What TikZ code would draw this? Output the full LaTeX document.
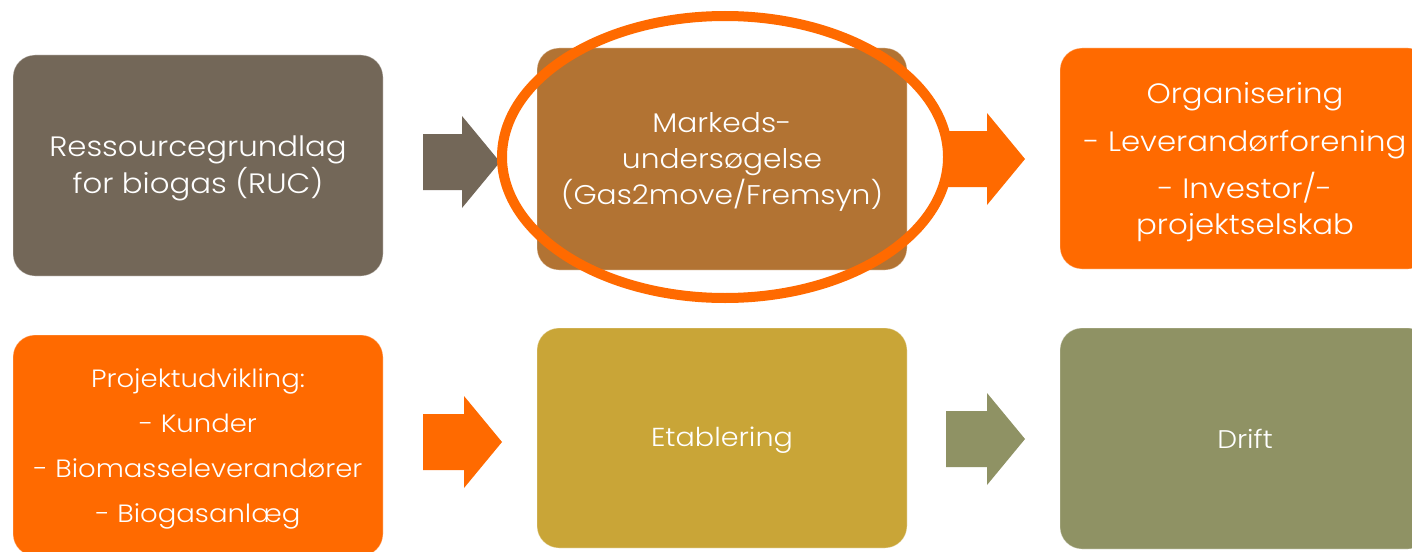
\documentclass[tikz,border=0pt]{standalone}
\usepackage{fontspec}
\setmainfont{Poppins}[UprightFont={* Light}, FakeStretch=1.1]
\usetikzlibrary{calc}
\definecolor{cgrey}{HTML}{736758}
\definecolor{cbrown}{HTML}{B27333}
\definecolor{corange}{HTML}{FF6A00}
\definecolor{cgold}{HTML}{C9A537}
\definecolor{colive}{HTML}{8F9264}
\newcommand\myblockarrow[3]{%
  \fill[#1] ($(#2)+(0,-28)$) -- ($(#3)+(-38,-28)$) -- ($(#3)+(-38,-46)$) -- (#3)
    -- ($(#3)+(-38,46)$) -- ($(#3)+(-38,28)$) -- ($(#2)+(0,28)$) -- cycle;}
\begin{document}
\begin{tikzpicture}[x=1pt,y=-1pt,
  box/.style={rounded corners=22pt, minimum width=370pt, minimum height=221pt,
    inner sep=0pt, draw=white, draw opacity=0.35, line width=0.8pt},
  txt/.style={inner sep=0pt, text=white, align=center},
  ring/.style={draw=corange, line width=10pt}]
\useasboundingbox (0,0) rectangle (1412,551);
\clip (0,0) rectangle (1412,551);
\fill[white] (0,0) rectangle (1412,551);

\node[box, fill=cgrey] (b1) at (198,165.5) {};
\node[box, fill=cbrown, minimum height=222pt] (b2) at (722,159) {};
\node[box, fill=corange] (b3) at (1245,158.5) {};
\node[box, fill=corange] (b4) at (198,445.5) {};
\node[box, fill=cgold, minimum height=220pt] (b5) at (722,438) {};
\node[box, fill=colive] (b6) at (1245,438.5) {};

\node[txt, font=\fontsize{28}{37}\selectfont] (t1) at ($(b1)+(0,3)$)
  {Ressourcegrundlag\\for biogas (RUC)};
\node[txt, font=\fontsize{27}{36}\selectfont] (t2) at ($(b2)+(0,3)$)
  {Markeds-\\undersøgelse\\(Gas2move/Fremsyn)};
\node[txt, font=\fontsize{28}{36}\selectfont] (t3) at ($(b3)+(0,3.5)$)
  {Organisering\\[12pt]- Leverandørforening\\[11pt]- Investor/-\\projektselskab};
\node[txt, font=\fontsize{25}{45}\selectfont] (t4) at ($(b4)+(0,3)$)
  {Projektudvikling:\\- Kunder\\- Biomasseleverandører\\- Biogasanlæg};
\node[txt, font=\fontsize{26}{36}\selectfont] (t5) at ($(b5)+(0,2)$) {Etablering};
\node[txt, font=\fontsize{25.5}{36}\selectfont] (t6) at (b6) {Drift};

\coordinate (a1s) at (423,162);  \coordinate (a1t) at (500,162);
\coordinate (a2s) at (946,159);  \coordinate (a2t) at (1025,159);
\coordinate (a3s) at (423,442);  \coordinate (a3t) at (502,442);
\coordinate (a4s) at (946,439);  \coordinate (a4t) at (1025,439);
\myblockarrow{cgrey}{a1s}{a1t}
\myblockarrow{corange}{a2s}{a2t}
\myblockarrow{corange}{a3s}{a3t}
\myblockarrow{colive}{a4s}{a4t}

\draw[ring] (725,157) ellipse [x radius=223, y radius=141];
\end{tikzpicture}
\end{document}
